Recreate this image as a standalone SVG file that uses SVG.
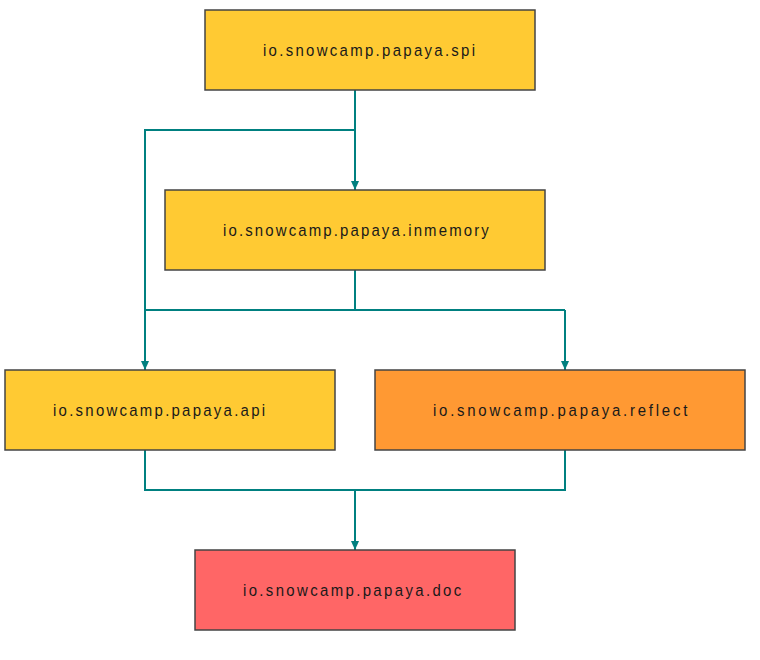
<svg xmlns="http://www.w3.org/2000/svg" width="760" height="660" viewBox="0 0 760 660">
  <defs>
    <!-- arrowhead drawn along +x so orient="auto" points it down the path -->
    <marker id="arrow" markerWidth="9" markerHeight="8" refX="9" refY="4" orient="auto" markerUnits="userSpaceOnUse" viewBox="0 0 9 8">
      <path d="M0,0 L9,4 L0,8 Z" fill="#008080"/>
    </marker>
    <style>
      .box { stroke: #444; stroke-width: 1.5; }
      .lbl { font-family: "Liberation Sans", Arial, sans-serif; font-size: 17px; fill: #1a1a1a; }
      .edge { fill: none; stroke: #008080; stroke-width: 2; }
      .arr { marker-end: url(#arrow); }
    </style>
  </defs>
  <rect width="760" height="660" fill="#fff"/>

  <g id="edges">
    <path class="edge arr" d="M355,90 V190"/>
    <path class="edge arr" d="M355,130 H145 V370"/>
    <path class="edge" d="M355,270 V310"/>
    <path class="edge" d="M145,310 H565"/>
    <path class="edge arr" d="M565,310 V370"/>
    <path class="edge" d="M145,450 V490 H565 V450"/>
    <path class="edge arr" d="M355,490 V550"/>
  </g>

  <!-- labels use slightly condensed glyphs with wide tracking -->
  <g id="spi">
    <rect class="box" x="205" y="10" width="330" height="80" fill="#FFCA33"/>
    <g transform="translate(263,55.5) scale(0.88,1)">
      <text class="lbl" x="0" y="0" textLength="241" lengthAdjust="spacing">io.snowcamp.papaya.spi</text>
    </g>
  </g>
  <g id="inmemory">
    <rect class="box" x="165" y="190" width="380" height="80" fill="#FFCA33"/>
    <g transform="translate(223,235.5) scale(0.88,1)">
      <text class="lbl" x="0" y="0" textLength="302" lengthAdjust="spacing">io.snowcamp.papaya.inmemory</text>
    </g>
  </g>
  <g id="api">
    <rect class="box" x="5" y="370" width="330" height="80" fill="#FFCA33"/>
    <g transform="translate(53,415.5) scale(0.88,1)">
      <text class="lbl" x="0" y="0" textLength="241" lengthAdjust="spacing">io.snowcamp.papaya.api</text>
    </g>
  </g>
  <g id="reflect">
    <rect class="box" x="375" y="370" width="370" height="80" fill="#FF9933"/>
    <g transform="translate(433,415.5) scale(0.88,1)">
      <text class="lbl" x="0" y="0" textLength="289" lengthAdjust="spacing">io.snowcamp.papaya.reflect</text>
    </g>
  </g>
  <g id="doc">
    <rect class="box" x="195" y="550" width="320" height="80" fill="#FF6666"/>
    <g transform="translate(243,595.5) scale(0.88,1)">
      <text class="lbl" x="0" y="0" textLength="248" lengthAdjust="spacing">io.snowcamp.papaya.doc</text>
    </g>
  </g>
</svg>
